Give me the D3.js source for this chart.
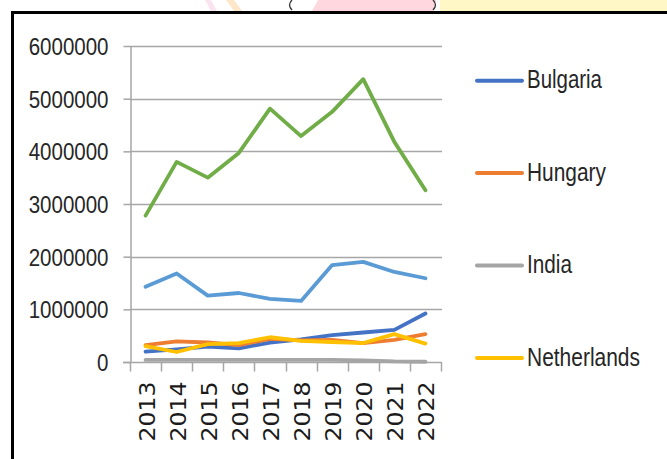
<!DOCTYPE html>
<html>
<head>
<meta charset="utf-8">
<script src="https://cdn.jsdelivr.net/npm/d3@7"></script>
<style>
  html, body { margin: 0; padding: 0; background: #fff; }
  svg { display: block; }
</style>
</head>
<body>
<svg id="chart" width="667" height="459"></svg>
<script>
// chart data
var years = ['2013','2014','2015','2016','2017','2018','2019','2020','2021','2022'];
var bulgaria    = [195000, 240000, 290000, 260000, 370000, 430000, 510000, 560000, 610000, 920000];
var hungary     = [320000, 390000, 370000, 320000, 440000, 410000, 420000, 360000, 420000, 530000];
var india       = [40000, 40000, 40000, 40000, 40000, 40000, 40000, 30000, 10000, 5000];
var netherlands = [300000, 190000, 340000, 360000, 470000, 400000, 380000, 360000, 530000, 350000];
var series5     = [1430000, 1680000, 1260000, 1310000, 1200000, 1160000, 1840000, 1900000, 1710000, 1590000];
var series6     = [2780000, 3800000, 3500000, 3970000, 4810000, 4290000, 4750000, 5370000, 4180000, 3260000];
var yTicks = [0, 1000000, 2000000, 3000000, 4000000, 5000000, 6000000];
var legendNames = ['Bulgaria', 'Hungary', 'India', 'Netherlands'];

var series = [
  {name: 'Bulgaria',    values: bulgaria,    color: '#4472c4'},
  {name: 'Hungary',     values: hungary,     color: '#ed7d31'},
  {name: 'India',       values: india,       color: '#a5a5a5'},
  {name: 'Netherlands', values: netherlands, color: '#ffc000'},
  {name: 'Series 5',    values: series5,     color: '#5b9bd5'},
  {name: 'Series 6',    values: series6,     color: '#70ad47'}
];

var svg = d3.select('#chart');

// faint slide artwork above the frame
var deco = svg.append('g').attr('class', 'deco');
deco.append('rect').attr('x', 440).attr('y', 0).attr('width', 227).attr('height', 11).attr('fill', '#fff8c6');
deco.append('path').attr('d', 'M318,0 L436,0 L433,11 L312,11 Z').attr('fill', '#ffd8df');
deco.append('path').attr('d', 'M226,0 L234,0 L242,11 L234,11 Z').attr('fill', '#fde7c8');
deco.append('path').attr('d', 'M205,0 L211,0 L217,11 L211,11 Z').attr('fill', '#fbe3ef');
deco.append('path').attr('d', 'M292,0 Q287,5 292,10').attr('fill', 'none').attr('stroke', '#333').attr('stroke-width', 1.3);
deco.append('path').attr('d', 'M433,0 Q438,5 433,10').attr('fill', 'none').attr('stroke', '#333').attr('stroke-width', 1.3);

// frame
svg.append('rect')
  .attr('x', 12.5).attr('y', 12.5).attr('width', 700).attr('height', 500)
  .attr('fill', '#fff').attr('stroke', '#000').attr('stroke-width', 3);

var x = d3.scaleBand().domain(years).range([130, 441]).padding(0);
var y = d3.scaleLinear().domain([0, 6000000]).range([362, 46]);
var cx = function (d, i) { return x(years[i]) + x.bandwidth() / 2; };

// gridlines
svg.append('g').selectAll('line').data(yTicks.slice(1)).join('line')
  .attr('x1', 130).attr('x2', 442)
  .attr('y1', function (d) { return Math.round(y(d)) + 0.5; })
  .attr('y2', function (d) { return Math.round(y(d)) + 0.5; })
  .attr('stroke', '#a6a6a6').attr('stroke-width', 1.5);

// y axis
var yAxis = svg.append('g').attr('transform', 'translate(130.5,0)')
  .call(d3.axisLeft(y).tickValues(yTicks).tickSize(7).tickSizeOuter(0).tickFormat(d3.format('d')));
yAxis.select('.domain').attr('stroke', '#a6a6a6').attr('stroke-width', 1.5);
yAxis.selectAll('.tick line').attr('stroke', '#a6a6a6').attr('stroke-width', 1.5);
yAxis.selectAll('.tick text')
  .attr('x', -22).attr('dy', '0.36em')
  .style('font-family', '"Liberation Sans", Arial, sans-serif')
  .style('font-size', '24px').attr('fill', '#262626')
  .each(function () {
    var t = d3.select(this), n = t.text().length;
    t.attr('textLength', n * 11.4).attr('lengthAdjust', 'spacingAndGlyphs');
  });

// x axis
var xAxis = svg.append('g').attr('transform', 'translate(0,362.5)')
  .call(d3.axisBottom(x).tickSize(0).tickSizeOuter(0));
xAxis.select('.domain').remove();
xAxis.append('line').attr('x1', 123).attr('x2', 442).attr('stroke', '#a6a6a6').attr('stroke-width', 1.5);
xAxis.selectAll('.xtick').data(years.concat(['end'])).join('line')
  .attr('class', 'xtick')
  .attr('x1', function (d, i) { return Math.round(i < years.length ? x(d) : x.range()[1]) + 0.5; })
  .attr('x2', function (d, i) { return Math.round(i < years.length ? x(d) : x.range()[1]) + 0.5; })
  .attr('y1', 0).attr('y2', 9)
  .attr('stroke', '#a6a6a6').attr('stroke-width', 1.5);
xAxis.selectAll('.tick text')
  .attr('transform', 'rotate(-90)')
  .attr('x', -19).attr('y', 9).attr('dy', 0)
  .attr('text-anchor', 'end')
  .style('font-family', '"DejaVu Sans", Verdana, sans-serif')
  .style('font-size', '21px').attr('fill', '#1a1a1a')
  .attr('textLength', 60).attr('lengthAdjust', 'spacingAndGlyphs');

// lines
var line = d3.line()
  .x(function (d, i) { return cx(d, i); })
  .y(function (d) { return y(d); });

svg.append('g').selectAll('path').data(series).join('path')
  .attr('d', function (s) { return line(s.values); })
  .attr('fill', 'none')
  .attr('stroke', function (s) { return s.color; })
  .attr('stroke-width', 3.8)
  .attr('stroke-linejoin', 'round')
  .attr('stroke-linecap', 'round');

// legend
var legend = svg.append('g').selectAll('g')
  .data(legendNames).join('g')
  .attr('transform', function (d, i) { return 'translate(0,' + (80.7 + i * 92.4) + ')'; });
legend.append('line')
  .attr('x1', 477).attr('x2', 522)
  .attr('stroke', function (d) { return series.find(function (s) { return s.name === d; }).color; })
  .attr('stroke-width', 4).attr('stroke-linecap', 'round');
legend.append('text')
  .attr('x', 527).attr('y', 7.6)
  .style('font-family', '"Liberation Sans", Arial, sans-serif')
  .style('font-size', '25px').attr('fill', '#262626')
  .text(function (d) { return d; })
  .each(function (d) {
    var w = {Bulgaria: 75, Hungary: 79, India: 45, Netherlands: 113}[d];
    d3.select(this).attr('textLength', w).attr('lengthAdjust', 'spacingAndGlyphs');
  });
</script>
</body>
</html>
